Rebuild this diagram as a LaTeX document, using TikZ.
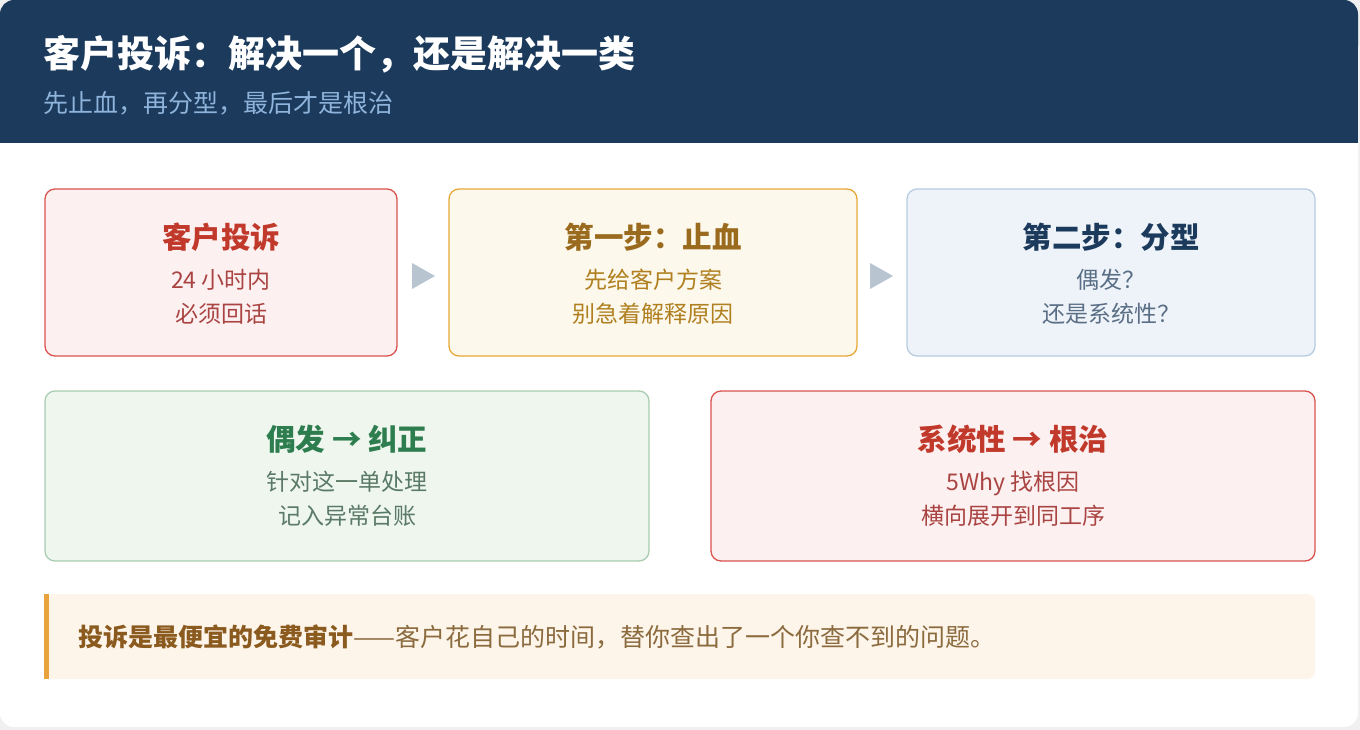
\documentclass[tikz,border=0pt]{standalone}
\usepackage{fontspec}
\setmainfont{Noto Sans CJK SC}
\begin{document}
\begin{tikzpicture}[x=1pt,y=-1pt,
  box/.style={rounded corners=10pt,line width=1.3pt},
  ttl/.style={font=\fontsize{29.5}{34}\selectfont\bfseries,anchor=center},
  txt/.style={font=\fontsize{23}{34}\selectfont,align=center,anchor=center},
  tri/.style={fill=arr,draw=none}]
\definecolor{navy}{HTML}{1B3A5C}
\definecolor{sub}{HTML}{8FB4DB}
\definecolor{arr}{HTML}{B8C4D0}
\definecolor{rb}{HTML}{D9534F}\definecolor{rf}{HTML}{FDF0F0}\definecolor{rt}{HTML}{C0392B}\definecolor{rl}{HTML}{A94442}
\definecolor{yb}{HTML}{E8A838}\definecolor{yf}{HTML}{FDF8EC}\definecolor{yt}{HTML}{9A6B1E}\definecolor{yl}{HTML}{B08020}
\definecolor{bb}{HTML}{B8CCE0}\definecolor{bf}{HTML}{EEF3FA}\definecolor{bl}{HTML}{5A6E85}
\definecolor{gb}{HTML}{A8CDB0}\definecolor{gf}{HTML}{EEF6EE}\definecolor{gt}{HTML}{2E7D4F}\definecolor{gl}{HTML}{5A7A65}
\definecolor{nf}{HTML}{FDF5EA}\definecolor{nbar}{HTML}{E8A33D}\definecolor{nt}{HTML}{8B5A1E}\definecolor{nl}{HTML}{8B6A3E}
\useasboundingbox (0,0) rectangle (1360,730);
\fill[gray!12] (0,0) rectangle (1360,730);
\fill[white,rounded corners=14pt] (0,0) rectangle (1358,727);
\fill[navy,rounded corners=14pt] (0,0) rectangle (1358,60);
\fill[navy] (0,30) rectangle (1358,143);
\node[anchor=west,white,font=\fontsize{37}{42}\selectfont\bfseries,inner sep=0pt] (h) at (43,54) {客户投诉：解决一个，还是解决一类};
\node[anchor=west,sub,font=\fontsize{25}{28}\selectfont,inner sep=0pt] (hs) at (43,103) {先止血，再分型，最后才是根治};
% row 1
\draw[box,draw=rb,fill=rf] (45,189) rectangle (397,356);
\node[ttl,rt] (t1) at (221,237) {客户投诉};
\node[txt,rl] (l1) at (221,297) {24 小时内\\必须回话};
\draw[box,draw=yb,fill=yf] (449,189) rectangle (857,356);
\node[ttl,yt] (t2) at (653,237) {第一步：止血};
\node[txt,yl] (l2) at (653,297) {先给客户方案\\别急着解释原因};
\draw[box,draw=bb,fill=bf] (907,189) rectangle (1315,356);
\node[ttl,navy] (t3) at (1111,237) {第二步：分型};
\node[txt,bl] (l3) at (1111,297) {偶发？\\还是系统性？};
\fill[arr] (412,263) -- (435,276) -- (412,289) -- cycle;
\fill[arr] (870,263) -- (893,276) -- (870,289) -- cycle;
% row 2
\draw[box,draw=gb,fill=gf] (45,391) rectangle (649,561);
\node[ttl,gt] (t4) at (347,439) {偶发 → 纠正};
\node[txt,gl] (l4) at (347,499) {针对这一单处理\\记入异常台账};
\draw[box,draw=rb,fill=rf] (711,391) rectangle (1315,561);
\node[ttl,rt] (t5) at (1013,439) {系统性 → 根治};
\node[txt,rl] (l5) at (1013,499) {5Why 找根因\\横向展开到同工序};
% note
\fill[nf,rounded corners=8pt] (45,594) rectangle (1315,679);
\fill[nbar] (44,594) rectangle (49,679);
\node[anchor=west,font=\fontsize{25}{28}\selectfont,inner sep=0pt] (n) at (78,637) {\textcolor{nt}{\bfseries 投诉是最便宜的免费审计}\textcolor{nl}{——客户花自己的时间，替你查出了一个你查不到的问题。}};
\end{tikzpicture}
\end{document}
